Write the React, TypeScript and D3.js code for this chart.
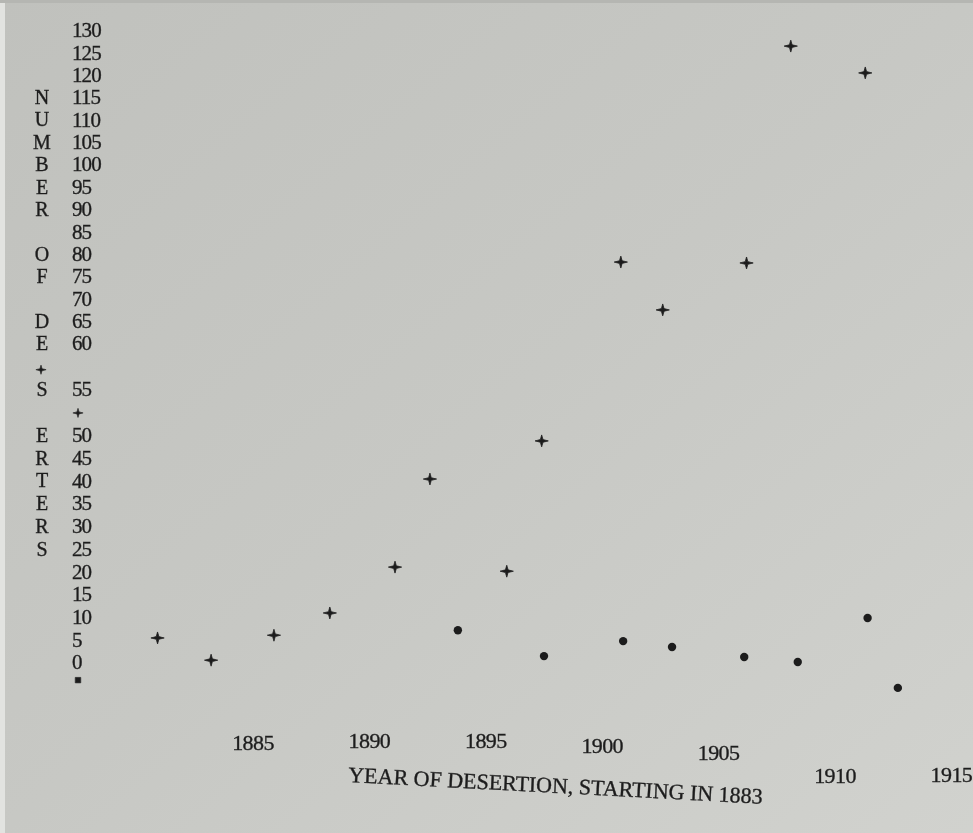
import React from "react";
import * as d3 from "d3";

// ---- data ----
const plusYears = [1880.9, 1883.2, 1885.9, 1888.3, 1891.1, 1892.6, 1895.9, 1897.4, 1900.8, 1902.6, 1906.2, 1908.1, 1911.3];
const plusValues = [5.3, 0.4, 5.9, 10.8, 20.9, 40.3, 20.0, 48.7, 78.1, 67.4, 77.9, 126.4, 120.4];

const dotYears = [1893.8, 1897.5, 1900.9, 1903.0, 1906.1, 1908.4, 1911.4, 1912.7];
const dotValues = [7.0, 1.3, 4.6, 3.3, 1.1, 0, 9.7, -5.7];

const yTickValues = d3.range(0, 131, 5);
const xTickYears = [1885, 1890, 1895, 1900, 1905, 1910, 1915];

const yTitleLetters = ["N", "U", "M", "B", "E", "R", "O", "F", "D", "E", "S", "E", "R", "T", "E", "R", "S"];
const yTitleRows = [115, 110, 105, 100, 95, 90, 80, 75, 65, 60, 55, 50, 45, 40, 35, 30, 25];

// stray marks printed inside the label columns
const strayColumns = ["title", "ticks", "ticks"];
const strayValues = [57.1, 52.4, -4.0];
const strayShapes = ["plus", "plus", "square"];

const xTitle = "YEAR OF DESERTION, STARTING IN 1883";

// ---- layout (not data) ----
const W = 973;
const H = 833;
const X_TICK_DROP = [0, -2, -2, 3, 10, 33, 32];
const COL_X: Record<string, number> = { title: 41, ticks: 78 };
const INK = "#1f1f1f";
const FONT = "'Liberation Serif', 'DejaVu Serif', serif";

const x = d3.scaleLinear().domain([1885, 1910]).range([253, 835]);
const y = d3.scaleLinear().domain([0, 50, 60, 130]).range([662, 435, 343, 30]);

const star4: d3.SymbolType = {
  draw(context, size) {
    const r = Math.sqrt(size);
    const i = r * 0.2;
    context.moveTo(-r, 0);
    context.lineTo(-i, -i);
    context.lineTo(0, -r * 0.9);
    context.lineTo(i, -i);
    context.lineTo(r, 0);
    context.lineTo(i, i);
    context.lineTo(0, r * 0.9);
    context.lineTo(-i, i);
    context.closePath();
  },
};

const plusPath = d3.symbol().type(star4).size(44)()!;
const smallPlusPath = d3.symbol().type(star4).size(26)()!;
const squarePath = d3.symbol().type(d3.symbolSquare).size(30)()!;

export default function App() {
  const plusPts = plusYears.map((yr, i) => ({ cx: x(yr), cy: y(plusValues[i]) }));
  const dotPts = dotYears.map((yr, i) => ({ cx: x(yr), cy: y(dotValues[i]) }));
  const textInk = { fill: INK, stroke: INK, strokeWidth: 0.35 };

  return (
    <svg
      width={W}
      height={H}
      style={{ position: "absolute", left: 0, top: 0, display: "block" }}
      fontFamily={FONT}
    >
      <defs>
        <linearGradient id="paper" x1="0" y1="0" x2="1" y2="1">
          <stop offset="0" stopColor="#c0c1bd" />
          <stop offset="0.5" stopColor="#c7c8c4" />
          <stop offset="1" stopColor="#d1d2ce" />
        </linearGradient>
        <filter id="soft" x="-5%" y="-5%" width="110%" height="110%">
          <feGaussianBlur stdDeviation="0.55" />
        </filter>
      </defs>
      <rect x={0} y={0} width={W} height={H} fill="url(#paper)" />
      <rect x={0} y={0} width={5} height={H} fill="#e2e3e0" />
      <rect x={0} y={0} width={W} height={3} fill="#b5b6b2" />

      <g filter="url(#soft)" fill={INK}>
        {/* y title letters */}
        {yTitleLetters.map((ch, i) => (
          <text key={"t" + i} x={42} y={y(yTitleRows[i])} dy="0.35em" textAnchor="middle" fontSize={20} {...textInk}>
            {ch}
          </text>
        ))}

        {/* y tick labels */}
        {yTickValues.map((v) => (
          <text key={"y" + v} x={72} y={y(v)} dy="0.35em" textAnchor="start" fontSize={21} letterSpacing={-0.9} {...textInk}>
            {v}
          </text>
        ))}

        {/* x tick labels */}
        {xTickYears.map((yr, i) => (
          <text key={"x" + yr} x={x(yr)} y={742 + X_TICK_DROP[i]} dy="0.35em" textAnchor="middle" fontSize={22} letterSpacing={-0.6} {...textInk}>
            {yr}
          </text>
        ))}

        {/* x title */}
        <text x={348} y={782} fontSize={22} transform="rotate(3 348 782)" {...textInk}>
          {xTitle}
        </text>

        {/* stray marks in the label columns */}
        {strayValues.map((v, i) => (
          <path
            key={"s" + i}
            d={strayShapes[i] === "plus" ? smallPlusPath : squarePath}
            transform={`translate(${COL_X[strayColumns[i]]},${y(v)})`}
            fill={INK}
            stroke={INK}
            strokeWidth={0.6}
          />
        ))}

        {/* plus series */}
        {plusPts.map((p, i) => (
          <path
            key={"p" + i}
            d={plusPath}
            transform={`translate(${p.cx},${p.cy})`}
            fill={INK}
            stroke={INK}
            strokeWidth={0.8}
          />
        ))}

        {/* dot series */}
        {dotPts.map((p, i) => (
          <circle key={"d" + i} cx={p.cx} cy={p.cy} r={4.2} fill={INK} />
        ))}
      </g>
    </svg>
  );
}
